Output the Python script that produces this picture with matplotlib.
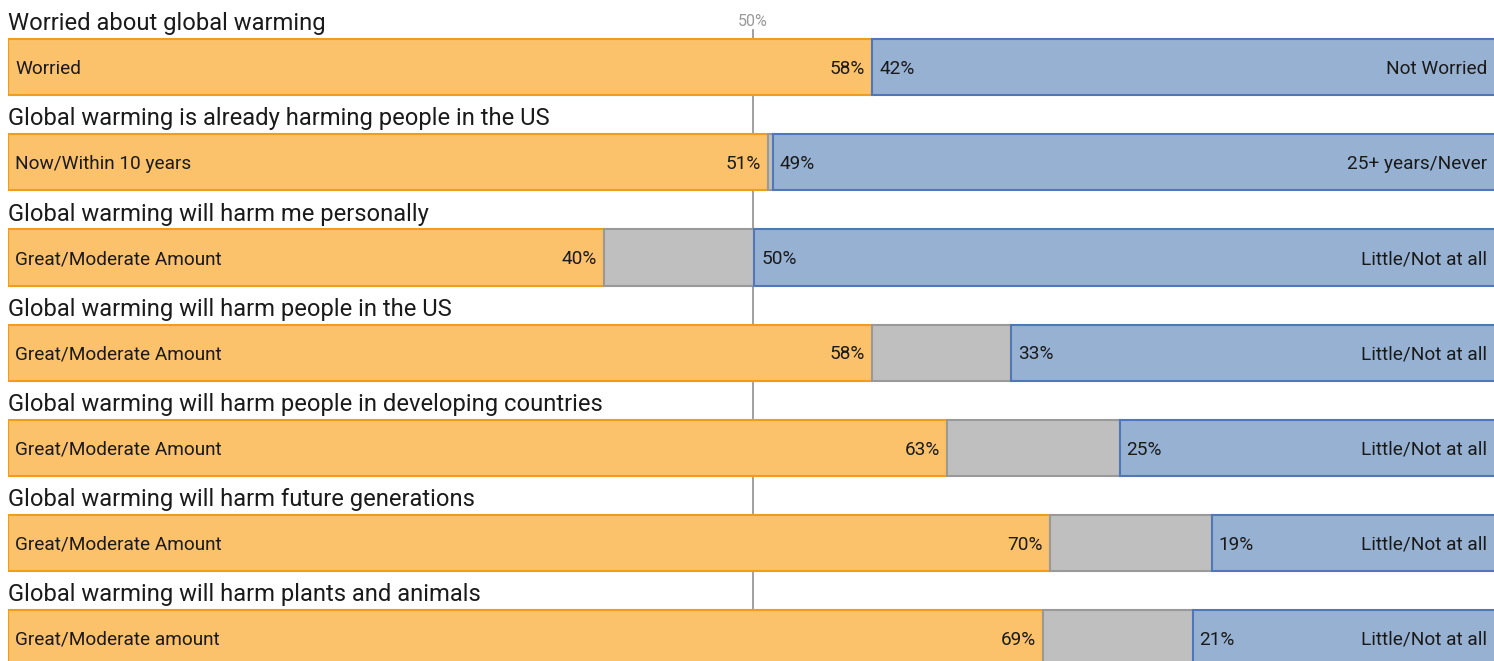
import matplotlib.pyplot as plt

# survey data (percent)
titles = ["Worried about global warming",
          "Global warming is already harming people in the US",
          "Global warming will harm me personally",
          "Global warming will harm people in the US",
          "Global warming will harm people in developing countries",
          "Global warming will harm future generations",
          "Global warming will harm plants and animals"]
left_labels = ["Worried", "Now/Within 10 years", "Great/Moderate Amount",
               "Great/Moderate Amount", "Great/Moderate Amount",
               "Great/Moderate Amount", "Great/Moderate amount"]
right_labels = ["Not Worried", "25+ years/Never", "Little/Not at all",
                "Little/Not at all", "Little/Not at all",
                "Little/Not at all", "Little/Not at all"]
agree = [58, 51, 40, 58, 63, 69.9, 69.45]
unsure = [0, 0.35, 10.1, 9.3, 11.6, 10.9, 10.05]
disagree = [42, 49, 50, 33, 25, 19, 21]

plt.rcParams['font.family'] = ['Roboto', 'DejaVu Sans']

W, H = 1494, 661
fig = plt.figure(figsize=(W / 100, H / 100), dpi=100)
# axes spans from x=8px to where 100% sits (~1498px, clipped by the figure)
ax = fig.add_axes([8 / W, 0, 1490 / W, 1])
ax.set_xlim(0, 100)
ax.set_ylim(6.24, -0.705)
ax.axis('off')

orange, orange_edge = '#FBC26B', '#F39C1A'
blue, blue_edge = '#97B1D3', '#5078B8'
grey, grey_edge = '#BFBFBF', '#999999'
txt = '#1a1a1a'
h = 0.59

# 50% reference line
ax.plot([50, 50], [-0.39, 5.7], color='#999999', lw=1.3, zorder=0)
ax.text(50, -0.48, "50%", ha='center', va='center', fontsize=11.5, color='#999999')

for i in range(len(titles)):
    a, u, d = agree[i], unsure[i], disagree[i]
    ax.barh(i, a, left=0, height=h, color=orange, edgecolor=orange_edge, lw=1.5, zorder=2)
    if u > 0:
        ax.barh(i, u, left=a, height=h, color=grey, edgecolor=grey_edge, lw=1.5, zorder=2)
    ax.barh(i, 102 - a - u, left=a + u, height=h, color=blue, edgecolor=blue_edge, lw=1.5, zorder=2)

    ax.text(0, i - 0.455, titles[i], ha='left', va='center', fontsize=17.1, color=txt)
    ax.annotate(left_labels[i], (0, i), xytext=(5, -1.3), textcoords='offset points',
                ha='left', va='center', fontsize=13.7, color=txt, zorder=3)
    ax.annotate(f"{a:.0f}%", (a, i), xytext=(-5, -1.3), textcoords='offset points',
                ha='right', va='center', fontsize=13.7, color=txt, zorder=3)
    ax.annotate(f"{d}%", (a + u, i), xytext=(5, -1.3), textcoords='offset points',
                ha='left', va='center', fontsize=13.7, color=txt, zorder=3)
    ax.annotate(right_labels[i], (100, i), xytext=(-8, -1.3), textcoords='offset points',
                ha='right', va='center', fontsize=13.7, color=txt, zorder=3)

fig.savefig('out.png', dpi=100)
